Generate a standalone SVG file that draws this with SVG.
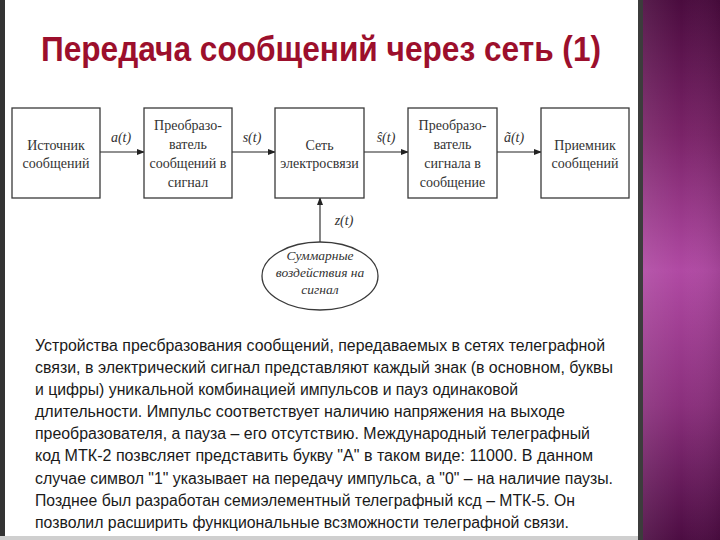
<svg xmlns="http://www.w3.org/2000/svg" width="720" height="540" viewBox="0 0 720 540">
<defs>
<linearGradient id="purple" x1="0" y1="0" x2="0" y2="1">
<stop offset="0" stop-color="#4a0b3e"/>
<stop offset="0.25" stop-color="#7a2368"/>
<stop offset="0.5" stop-color="#b049a3"/>
<stop offset="0.75" stop-color="#8a2f7c"/>
<stop offset="1" stop-color="#4c0c42"/>
</linearGradient>
<linearGradient id="purpleH" x1="0" y1="0" x2="1" y2="0">
<stop offset="0" stop-color="#ffffff" stop-opacity="0.08"/>
<stop offset="0.5" stop-color="#ffffff" stop-opacity="0"/>
<stop offset="1" stop-color="#000000" stop-opacity="0.08"/>
</linearGradient>
<marker id="arr" markerWidth="8" markerHeight="6" refX="7" refY="3" orient="auto" markerUnits="userSpaceOnUse">
<path d="M0,0 L8,3 L0,6 z" fill="#222"/>
</marker>
<style>
.box{fill:#fff;stroke:#3a3a3a;stroke-width:1.3}
.bt{font-family:"Liberation Serif","DejaVu Serif",serif;font-size:14px;fill:#333;text-anchor:middle}
.lab{font-family:"Liberation Serif","DejaVu Serif",serif;font-size:14px;font-style:italic;fill:#333;text-anchor:middle}
.el{font-family:"Liberation Serif","DejaVu Serif",serif;font-size:13.5px;font-style:italic;fill:#333;text-anchor:middle}
.con{stroke:#222;stroke-width:1.1;fill:none;marker-end:url(#arr)}
.body{font-family:"Liberation Sans","Arial",sans-serif;font-size:16px;fill:#1a1a1a}
</style>
</defs>
<rect x="0" y="0" width="720" height="540" fill="#ffffff"/>
<rect x="0" y="0" width="5" height="540" fill="#333333"/>
<rect x="0" y="536" width="640" height="4" fill="#cfcfcf"/>
<rect x="638" y="0" width="5" height="540" fill="#3c3c3c"/>
<rect x="643" y="0" width="77" height="540" fill="url(#purple)"/>
<rect x="643" y="0" width="77" height="540" fill="url(#purpleH)"/>

<text x="41" y="61" font-family="'Liberation Sans',Arial,sans-serif" font-size="35" font-weight="bold" fill="#9c0f2c" textLength="560" lengthAdjust="spacingAndGlyphs">Передача сообщений через сеть (1)</text>

<g id="connectors">
<line class="con" x1="100" y1="152" x2="144" y2="152"/>
<line class="con" x1="232" y1="152" x2="275" y2="152"/>
<line class="con" x1="364" y1="152" x2="408" y2="152"/>
<line class="con" x1="497" y1="152" x2="541" y2="152"/>
<line class="con" x1="320" y1="242" x2="320" y2="198"/>
<text class="lab" x="121" y="142">a(t)</text>
<text class="lab" x="252" y="142">s(t)</text>
<text class="lab" x="386" y="142">ŝ(t)</text>
<text class="lab" x="514" y="142">ã(t)</text>
<text class="lab" x="344" y="225">z(t)</text>
</g>

<g id="n1">
<rect class="box" x="12" y="108" width="88" height="90"/>
<text class="bt" x="56" y="150">Источник</text>
<text class="bt" x="56" y="168">сообщений</text>
</g>
<g id="n2">
<rect class="box" x="144" y="108" width="88" height="90"/>
<text class="bt" x="188" y="130">Преобразо-</text>
<text class="bt" x="188" y="149">ватель</text>
<text class="bt" x="188" y="168">сообщений в</text>
<text class="bt" x="188" y="187">сигнал</text>
</g>
<g id="n3">
<rect class="box" x="275" y="108" width="89" height="90"/>
<text class="bt" x="319.5" y="150">Сеть</text>
<text class="bt" x="319.5" y="168">электросвязи</text>
</g>
<g id="n4">
<rect class="box" x="408" y="108" width="89" height="90"/>
<text class="bt" x="452.5" y="130">Преобразо-</text>
<text class="bt" x="452.5" y="149">ватель</text>
<text class="bt" x="452.5" y="168">сигнала в</text>
<text class="bt" x="452.5" y="187">сообщение</text>
</g>
<g id="n5">
<rect class="box" x="541" y="108" width="88" height="90"/>
<text class="bt" x="585" y="150">Приемник</text>
<text class="bt" x="585" y="168">сообщений</text>
</g>
<g id="n6">
<ellipse cx="320" cy="276" rx="58" ry="34" fill="#fff" stroke="#3a3a3a" stroke-width="1.3"/>
<text class="el" x="320" y="260">Суммарные</text>
<text class="el" x="320" y="277">воздействия на</text>
<text class="el" x="320" y="294">сигнал</text>
</g>

<g id="paragraph">
<text class="body" x="35" y="351" textLength="570" lengthAdjust="spacingAndGlyphs">Устройства пресбразования сообщений, передаваемых в сетях телеграфной</text>
<text class="body" x="35" y="373" textLength="578" lengthAdjust="spacingAndGlyphs">связи, в электрический сигнал представляют каждый знак (в основном, буквы</text>
<text class="body" x="35" y="395" textLength="483" lengthAdjust="spacingAndGlyphs">и цифры) уникальной комбинацией импульсов и пауз одинаковой</text>
<text class="body" x="35" y="417" textLength="530" lengthAdjust="spacingAndGlyphs">длительности. Импульс соответствует наличию напряжения на выходе</text>
<text class="body" x="35" y="439" textLength="555" lengthAdjust="spacingAndGlyphs">преобразователя, а пауза – его отсутствию. Международный телеграфный</text>
<text class="body" x="35" y="461" textLength="558" lengthAdjust="spacingAndGlyphs">код МТК-2 позвсляет представить букву "А" в таком виде: 11000. В данном</text>
<text class="body" x="35" y="484" textLength="578" lengthAdjust="spacingAndGlyphs">случае символ "1" указывает на передачу импульса, а "0" – на наличие паузы.</text>
<text class="body" x="35" y="506" textLength="540" lengthAdjust="spacingAndGlyphs">Позднее был разработан семиэлементный телеграфный ксд – МТК-5. Он</text>
<text class="body" x="35" y="528" textLength="534" lengthAdjust="spacingAndGlyphs">позволил расширить функциональные всзможности телеграфной связи.</text>
</g>
</svg>
